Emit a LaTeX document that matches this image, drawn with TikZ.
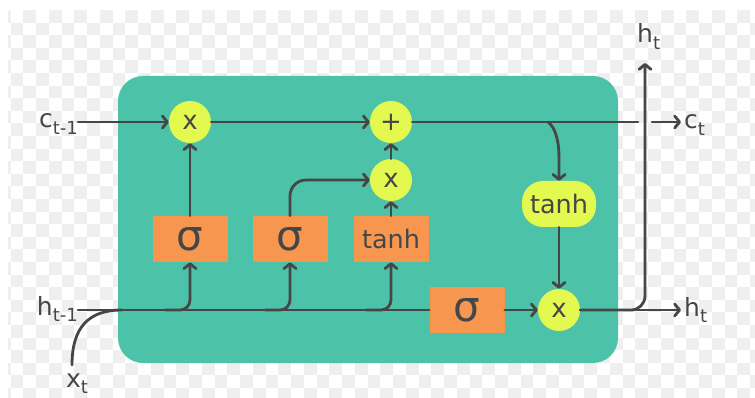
\documentclass[tikz,border=0pt]{standalone}
\usepackage{fontspec}
\setmainfont{DejaVu Sans}
\usetikzlibrary{arrows.meta}
\definecolor{cellc}{HTML}{4CC3A9}
\definecolor{orangec}{HTML}{F7974F}
\definecolor{yellowc}{HTML}{E4F94F}
\definecolor{linec}{HTML}{464646}
\definecolor{chk}{HTML}{EFEFEF}
\newcommand\lsub[1]{\raisebox{-6.5pt}{\fontsize{18}{18}\selectfont #1}}
\begin{document}
\begin{tikzpicture}[x=1pt,y=-1pt,
  line/.style={draw=linec, line width=2.8pt, line cap=round, line join=round},
  arr/.style={line, -{Straight Barb[length=5pt,width=12pt,line width=2.8pt,line join=round,line cap=round]}},
  op/.style={circle, fill=yellowc, minimum size=42pt, inner sep=0pt, text=linec, font=\fontsize{26}{26}\selectfont},
  gate/.style={rectangle, fill=orangec, minimum width=75pt, minimum height=46pt, inner sep=0pt, text=linec},
  sig/.style={gate, font=\fontsize{42}{42}\selectfont},
  tnh/.style={gate, font=\fontsize{25.5}{25.5}\selectfont},
  lbl/.style={inner sep=0pt, text=linec, font=\fontsize{25}{25}\selectfont}
]
\useasboundingbox (0,0) rectangle (755,398);
\fill[white] (0,0) rectangle (755,398);
\begin{scope}
\clip (8,10) rectangle (755,398);
\foreach \i in {-1,...,58}{
  \foreach \j in {0,...,31}{
    \pgfmathtruncatemacro\k{\i+\j+2}
    \ifodd\k
      \fill[chk] ({10.5+12.75*\i},{10+12.6*\j}) rectangle ++(12.75,12.6);
    \fi
  }
}
\end{scope}

% cell
\node[fill=cellc, rounded corners=25pt, minimum width=500pt, minimum height=287pt, inner sep=0pt] (cell) at (368,219.5) {};

% operators
\node[op] (mul1) at (190,122) {x};
\node[op] (add) at (391,122) {+};
\node[op] (mul2) at (391,180) {x};
\node[op] (mul3) at (559,310) {x};

% gates
\node[sig] (sig1) at (190,239) {σ};
\node[sig] (sig2) at (290,239) {σ};
\node[tnh] (tanhbox) at (391,239) {tanh};
\node[sig] (sig3) at (467,310) {σ};
\node[fill=yellowc, rounded corners=21pt, minimum width=74pt, minimum height=46pt, inner sep=0pt, text=linec, font=\fontsize{25.5}{25.5}\selectfont] (tanhoval) at (559,204) {tanh};

% labels
\node[lbl, anchor=base east] (cprev) at (78,128) {c\lsub{t-1}};
\node[lbl, anchor=base east] (hprev) at (78,315) {h\lsub{t-1}};
\node[lbl, anchor=base west] (xt) at (66,387) {x\lsub{t}};
\node[lbl, anchor=base west] (ct) at (684,129) {c\lsub{t}};
\node[lbl, anchor=base west] (hright) at (684,316) {h\lsub{t}};
\node[lbl, anchor=base west] (htop) at (637,43) {h\lsub{t}};

\coordinate (cend) at (638,122);
\coordinate (cstart) at (652,122);
\coordinate (ctip) at (681,122);
\coordinate (hrtip) at (681,310);
\coordinate (htip) at (645,63);
\coordinate (branch) at (548,122);
\coordinate (xs) at (72,365);
\coordinate (xjoin) at (122,310);

% cell state line
\draw[arr] (cprev.east |- mul1) -- (mul1.west);
\draw[arr] (mul1.east) -- (add.west);
\draw[line] (add.east) -- (cend);
\draw[arr] (cstart) -- (ctip);
\draw[arr] (branch) .. controls (555,127) and (559,140) .. (559,158) -- (tanhoval.north);
\draw[arr] (tanhoval.south) -- (mul3.north);

% hidden line
\draw[line] (hprev.east |- sig3) -- (sig3.west);
\draw[line] (xs) .. controls (72,328) and (88,310) .. (xjoin);
\draw[arr, rounded corners=10pt] ([xshift=-25pt]sig1.south |- sig3.west) -| (sig1.south);
\draw[arr, rounded corners=10pt] ([xshift=-25pt]sig2.south |- sig3.west) -| (sig2.south);
\draw[arr, rounded corners=10pt] ([xshift=-25pt]tanhbox.south |- sig3.west) -| (tanhbox.south);
\draw[arr] (sig3.east) -- (mul3.west);
\draw[arr] (mul3.east) -- (hrtip);
\draw[arr, rounded corners=14pt] (mul3.east) -| (htip);

% gate outputs
\draw[arr] (sig1.north) -- (mul1.south);
\draw[arr, rounded corners=16pt] (sig2.north) |- (mul2.west);
\draw[arr] (tanhbox.north) -- (mul2.south);
\draw[arr] (mul2.north) -- (add.south);
\end{tikzpicture}
\end{document}
